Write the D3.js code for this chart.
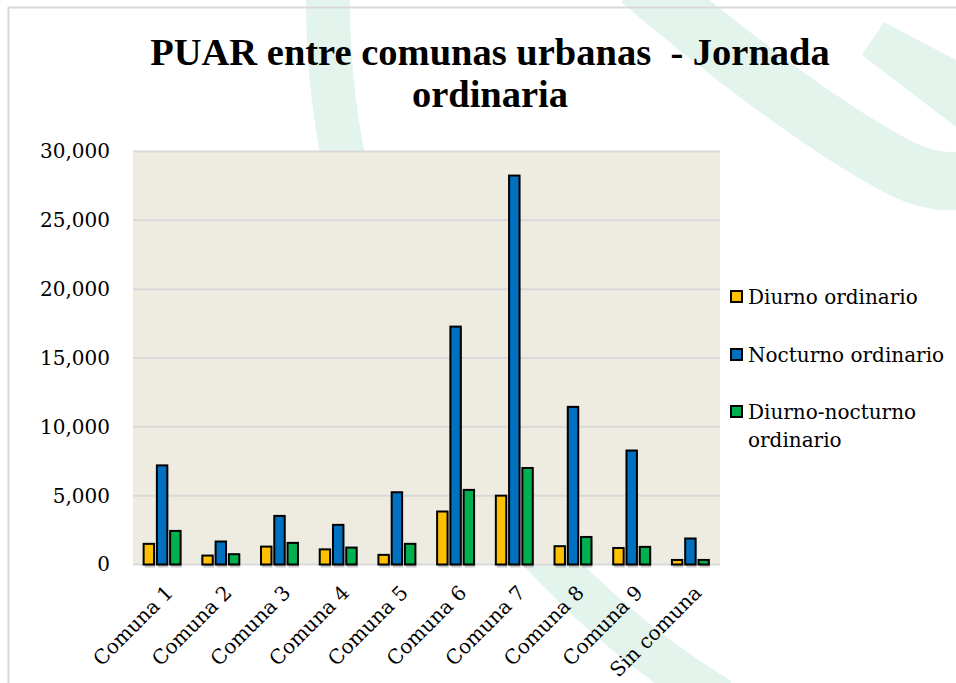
<!DOCTYPE html>
<html>
<head>
<meta charset="utf-8">
<script src="https://cdn.jsdelivr.net/npm/d3@7"></script>
<style>
  body { margin: 0; background: #fff; }
  svg { display: block; }
</style>
</head>
<body>
<svg id="chart" width="956" height="683"></svg>
<script>
// data
var categories = ["Comuna 1", "Comuna 2", "Comuna 3", "Comuna 4", "Comuna 5",
  "Comuna 6", "Comuna 7", "Comuna 8", "Comuna 9", "Sin comuna"];
var seriesNames = ["Diurno ordinario", "Nocturno ordinario", "Diurno-nocturno ordinario"];
var diurno = [1500, 650, 1300, 1100, 700, 3850, 5000, 1330, 1200, 330];
var nocturno = [7200, 1670, 3530, 2880, 5250, 17280, 28250, 11450, 8280, 1890];
var diurnoNocturno = [2440, 750, 1570, 1230, 1500, 5420, 7010, 2000, 1280, 330];
var yTicks = [0, 5000, 10000, 15000, 20000, 25000, 30000];
var colors = ["#FFC000", "#0070C0", "#00B050"];

var svg = d3.select("#chart"),
  width = 956,
  height = 683;

var plot = { left: 133, right: 720, top: 151.5, bottom: 564.5 };

// light green watermark in the background
var wm = svg.append("g").attr("fill", "none").attr("stroke", "#E3F4EC");
wm.append("path")
  .attr("stroke-width", 44)
  .attr("d", "M328,-10 A820,820 0 0 0 720,700");
wm.append("path")
  .attr("stroke-width", 58)
  .attr("d", "M640,-20 Q800,115 900,168 Q940,188 980,178");
svg.append("path")
  .attr("fill", "#E3F4EC")
  .attr("d", "M862,55 L884,22 L960,62 L960,130 Z");

// outer chart border (only top and left show)
svg.append("rect")
  .attr("x", 8.5).attr("y", 7.5)
  .attr("width", 960).attr("height", 690)
  .attr("fill", "none")
  .attr("stroke", "#D9D9D9")
  .attr("stroke-width", 2);

// title
var title = svg.append("text")
  .attr("text-anchor", "middle")
  .attr("font-family", "Liberation Serif")
  .attr("font-weight", "bold")
  .attr("font-size", 38.5)
  .attr("fill", "#000");
title.append("tspan").attr("x", 490).attr("y", 65).text("PUAR entre comunas urbanas\u00a0 - Jornada");
title.append("tspan").attr("x", 490).attr("y", 107).text("ordinaria");

// scales
var x0 = d3.scaleBand()
  .domain(categories)
  .range([plot.left, plot.right])
  .paddingInner(0.345)
  .paddingOuter(0.1725);

var x1 = d3.scaleBand()
  .domain([0, 1, 2])
  .range([0, x0.bandwidth()])
  .paddingInner(0.1);

var y = d3.scaleLinear()
  .domain([0, 30000])
  .range([plot.bottom, plot.top]);

// plot area
svg.append("rect")
  .attr("x", plot.left).attr("y", plot.top)
  .attr("width", plot.right - plot.left)
  .attr("height", plot.bottom - plot.top)
  .attr("fill", "#EEECE1");

// gridlines
svg.append("g")
  .selectAll("line")
  .data(yTicks)
  .enter()
  .append("line")
  .attr("x1", plot.left).attr("x2", plot.right)
  .attr("y1", function(d) { return y(d); })
  .attr("y2", function(d) { return y(d); })
  .attr("stroke", "#D9D9D9")
  .attr("stroke-width", 2);

// y axis labels
var yAxis = svg.append("g")
  .attr("transform", "translate(" + plot.left + ",0)")
  .call(d3.axisLeft(y).tickValues(yTicks).tickFormat(d3.format(",")).tickSize(0).tickPadding(23));
yAxis.select(".domain").remove();
yAxis.selectAll("text")
  .attr("font-family", "DejaVu Serif")
  .attr("font-size", 20)
  .attr("fill", "#000");

// bars
var table = categories.map(function(c, i) {
  return { cat: c, values: [diurno[i], nocturno[i], diurnoNocturno[i]] };
});

var groups = svg.append("g")
  .selectAll("g")
  .data(table)
  .enter()
  .append("g")
  .attr("transform", function(d) { return "translate(" + x0(d.cat) + ",0)"; });

// soft grey shadow behind each bar
groups.selectAll("rect.shadow")
  .data(function(d) { return d.values; })
  .enter()
  .append("rect")
  .attr("class", "shadow")
  .attr("x", function(d, i) { return x1(i) + 1.5; })
  .attr("y", function(d) { return y(d) + 1.5; })
  .attr("width", x1.bandwidth() - 1.5)
  .attr("height", function(d) { return y(0) - y(d) + 1.5; })
  .attr("fill", "#9a9a9a")
  .attr("opacity", 0.55);

groups.selectAll("rect.bar")
  .data(function(d) { return d.values; })
  .enter()
  .append("rect")
  .attr("class", "bar")
  .attr("x", function(d, i) { return x1(i) + 0.5; })
  .attr("y", function(d) { return y(d); })
  .attr("width", x1.bandwidth() - 1.5)
  .attr("height", function(d) { return y(0) - y(d); })
  .attr("fill", function(d, i) { return colors[i]; })
  .attr("stroke", "#000")
  .attr("stroke-width", 2);

// category labels, rotated
svg.append("g")
  .selectAll("text")
  .data(categories)
  .enter()
  .append("text")
  .attr("transform", function(d) {
    return "translate(" + (x0(d) + x0.bandwidth() / 2 + 12) + ",594) rotate(-45)";
  })
  .attr("text-anchor", "end")
  .attr("font-family", "DejaVu Serif")
  .attr("font-size", 20)
  .attr("fill", "#000")
  .text(function(d) { return d; });

// legend
var legendRows = [
  { lines: ["Diurno ordinario"], y: 291 },
  { lines: ["Nocturno ordinario"], y: 349 },
  { lines: ["Diurno-nocturno", "ordinario"], y: 406 }
];

var legend = svg.append("g")
  .selectAll("g")
  .data(legendRows)
  .enter()
  .append("g")
  .attr("transform", function(d) { return "translate(731," + d.y + ")"; });

legend.append("rect")
  .attr("x", 0).attr("y", 0)
  .attr("width", 11).attr("height", 11)
  .attr("fill", function(d, i) { return colors[i]; })
  .attr("stroke", "#000")
  .attr("stroke-width", 2);

legend.append("text")
  .attr("font-family", "DejaVu Serif")
  .attr("font-size", 20)
  .attr("fill", "#000")
  .each(function(d) {
    var t = d3.select(this);
    d.lines.forEach(function(line, k) {
      t.append("tspan").attr("x", 17).attr("y", 12.5 + k * 28.5).text(line);
    });
  });
</script>
</body>
</html>
